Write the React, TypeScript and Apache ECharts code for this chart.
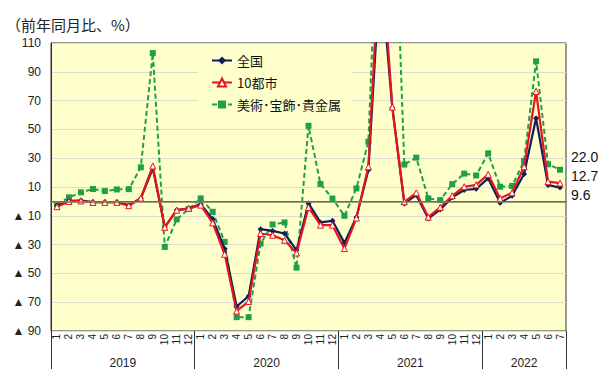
import React, { useEffect, useRef } from "react";
import * as echarts from "echarts";

const yearLabels = ["2019", "2020", "2021", "2022"];
const monthCounts = [12, 12, 12, 7];

const nationalValues = [
  -2.8, 0.3, 0.6, -0.4, -0.4, -0.4, -2.6, 2.1, 23.0, -17.8, -6.0, -5.0,
  -1.9, -12.3, -32.8, -73.0, -65.8, -19.3, -20.5, -22.3, -33.9, -1.4, -14.6, -13.5,
  -28.8, -11.0, 21.8, 162.0, 65.0, -1.4, 4.4, -11.9, -5.6, 2.8, 7.9, 8.7,
  16.0, -1.0, 3.9, 19.0, 57.8, 11.4, 9.6,
];
const tenCitiesValues = [
  -3.7, 0.0, 0.3, -0.7, -0.7, -0.7, -3.0, 2.3, 24.6, -18.0, -6.1, -4.8,
  -2.6, -14.9, -36.7, -76.2, -69.5, -22.3, -23.5, -27.0, -35.8, -4.2, -16.5, -16.5,
  -32.8, -11.6, 24.1, 182.0, 65.5, -0.3, 6.0, -10.9, -4.1, 3.9, 10.2, 11.5,
  18.8, 2.1, 6.0, 24.1, 76.4, 13.7, 12.7,
];
const artJewelryValues = [
  -2.0, 2.8, 6.3, 8.6, 7.2, 8.3, 8.5, 23.7, 103.0, -31.6, -12.5, -5.3,
  2.1, -7.2, -28.1, -80.4, -80.4, -29.3, -16.0, -14.6, -46.0, 52.5, 12.1, 2.0,
  -10.0, 9.0, 41.5, 250.0, 260.0, 25.6, 30.4, 2.1, 0.9, 12.0, 19.3, 18.0,
  33.4, 10.2, 10.7, 28.1, 97.3, 25.8, 22.0,
];

const seriesNames = ["全国", "10都市", "美術･宝飾･貴金属"];
const titleText = "（前年同月比、%）";

const categories: string[] = [];
yearLabels.forEach((y, yi) => {
  for (let m = 1; m <= monthCounts[yi]; m++) categories.push(y + "/" + m);
});

// half-month points for the year axis (boundaryGap false)
const halfPoints: string[] = [];
for (let j = 0; j <= categories.length * 2; j++) halfPoints.push("");
const yearBoundaries: number[] = [0];
{
  let acc = 0;
  yearLabels.forEach((y, yi) => {
    const mid = acc + monthCounts[yi];
    halfPoints[mid] = y;
    acc += monthCounts[yi] * 2;
    yearBoundaries.push(acc);
  });
}

export default function App() {
  const ref = useRef<HTMLDivElement>(null);
  useEffect(() => {
    if (!ref.current) return;
    const chart = echarts.init(ref.current, undefined, { renderer: "svg" });
    const font = "'Liberation Sans', 'Noto Sans CJK JP', sans-serif";
    const jp = "'Noto Sans CJK JP', sans-serif";
    chart.setOption({
      animation: false,
      backgroundColor: "#FFFFFF",
      textStyle: { fontFamily: font },
      title: {
        text: titleText,
        left: 1,
        top: 12,
        textStyle: { fontSize: 15, fontWeight: "normal", color: "#222", fontFamily: jp },
      },
      grid: {
        left: 51,
        right: 34,
        top: 43,
        bottom: 55,
        show: true,
        backgroundColor: "#FFFFCC",
        borderColor: "#333",
        borderWidth: 1,
      },
      legend: {
        orient: "vertical",
        left: 198,
        top: 48,
        padding: [6, 11, 6, 13],
        itemGap: 9,
        itemWidth: 20,
        itemHeight: 10,
        backgroundColor: "#FFFFCC",
        data: seriesNames,
        textStyle: { fontSize: 13, color: "#111", fontFamily: jp },
      },
      xAxis: [
        {
          type: "category",
          data: categories,
          boundaryGap: true,
          position: "bottom",
          axisLine: { show: true, lineStyle: { color: "#333", width: 1 } },
          axisTick: { show: false },
          axisLabel: {
            interval: 0,
            rotate: 90,
            fontSize: 10,
            margin: 3,
            color: "#222",
            formatter: (v: string) => v.split("/")[1],
          },
          splitLine: { show: false },
        },
        {
          type: "category",
          data: halfPoints,
          boundaryGap: false,
          position: "bottom",
          axisLine: { show: false },
          axisTick: {
            show: true,
            length: 38,
            interval: (i: number) => yearBoundaries.indexOf(i) >= 0,
            lineStyle: { color: "#333", width: 1 },
          },
          axisLabel: {
            interval: 0,
            fontSize: 12,
            margin: 26,
            color: "#222",
          },
          splitLine: { show: false },
        },
      ],
      yAxis: {
        type: "value",
        min: -90,
        max: 110,
        interval: 20,
        axisLine: { show: true, lineStyle: { color: "#333" } },
        axisTick: { show: false },
        axisLabel: {
          fontSize: 12,
          color: "#222",
          margin: 10,
          formatter: (v: number) => (v < 0 ? "▲ " + Math.abs(v) : String(v)),
        },
        splitLine: { show: true, lineStyle: { color: "#DCDCD0", width: 1 } },
      },
      series: [
        {
          name: seriesNames[0],
          type: "line",
          data: nationalValues,
          z: 3,
          symbol: "diamond",
          symbolSize: 6,
          itemStyle: { color: "#0F1F5C" },
          lineStyle: { color: "#0F1F5C", width: 2.2 },
          endLabel: {
            show: true,
            formatter: (p: any) => Number(p.value).toFixed(1),
            offset: [3, 7],
            fontSize: 14,
            color: "#111",
          },
          markLine: {
            silent: true,
            symbol: "none",
            label: { show: false },
            lineStyle: { color: "#7F7F60", width: 1.5, type: "solid" },
            data: [{ yAxis: 0 }],
          },
        },
        {
          name: seriesNames[1],
          type: "line",
          data: tenCitiesValues,
          z: 4,
          symbol: "triangle",
          symbolSize: 6,
          itemStyle: { color: "#FFFFFF", borderColor: "#E8141C", borderWidth: 1 },
          lineStyle: { color: "#E8141C", width: 2.2 },
          endLabel: {
            show: true,
            formatter: (p: any) => Number(p.value).toFixed(1),
            offset: [3, -7],
            fontSize: 14,
            color: "#111",
          },
        },
        {
          name: seriesNames[2],
          type: "line",
          data: artJewelryValues,
          z: 2,
          symbol: "rect",
          symbolSize: 6,
          itemStyle: { color: "#1FA048" },
          lineStyle: { color: "#1FA048", width: 2, type: [5, 3] },
          endLabel: {
            show: true,
            formatter: (p: any) => Number(p.value).toFixed(1),
            offset: [3, -13],
            fontSize: 14,
            color: "#111",
          },
        },
      ],
    });
    return () => chart.dispose();
  }, []);
  return (
    <div
      ref={ref}
      style={{ position: "fixed", left: 0, top: 0, width: 600, height: 386 }}
    />
  );
}
